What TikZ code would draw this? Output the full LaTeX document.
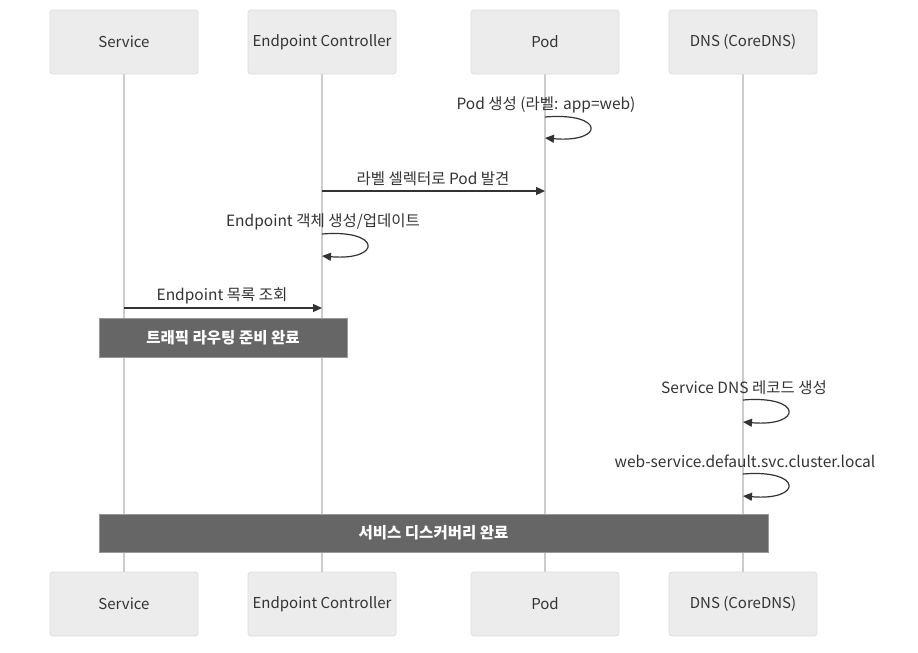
\documentclass[tikz,border=0pt]{standalone}
\usepackage{fontspec}
\setmainfont{Noto Sans CJK KR}
\usetikzlibrary{arrows.meta}
\definecolor{boxfill}{HTML}{ECECEC}
\definecolor{boxline}{HTML}{DDDDDD}
\definecolor{lifeline}{HTML}{CCCCCC}
\definecolor{txt}{HTML}{333333}
\definecolor{notefill}{HTML}{666666}
\definecolor{noteline}{HTML}{999999}
\tikzset{
  actor/.style={draw=boxline, fill=boxfill, rounded corners=3pt, minimum width=148pt, minimum height=64pt, inner sep=0pt, text=txt, font=\fontsize{15}{18}\selectfont, line width=0.8pt},
  life/.style={draw=lifeline, line width=1.5pt},
  msg/.style={draw=txt, line width=1.2pt, -{Triangle[length=9pt,width=8pt]}},
  lbl/.style={text=txt, font=\fontsize{15.5}{18}\selectfont, inner sep=0pt, yshift=-1.5pt},
  notebox/.style={draw=noteline, fill=notefill, text=white, font=\fontsize{15.5}{18}\selectfont\bfseries, inner sep=0pt, line width=0.8pt}
}
\begin{document}
\begin{tikzpicture}[x=1pt,y=-1pt]
\useasboundingbox (0,0) rectangle (918,653);
% lifelines
\coordinate (sT) at (124,74); \coordinate (sB) at (124,572);
\coordinate (eT) at (322,74); \coordinate (eB) at (322,572);
\coordinate (pT) at (545,74); \coordinate (pB) at (545,572);
\coordinate (dT) at (743,74); \coordinate (dB) at (743,572);
\draw[life] (sT) -- (sB);
\draw[life] (eT) -- (eB);
\draw[life] (pT) -- (pB);
\draw[life] (dT) -- (dB);
% actors top
\node[actor] (s1) at (124,42) {\raisebox{-1pt}{Service}};
\node[actor] (e1) at (322,42) {\raisebox{-1pt}{Endpoint Controller}};
\node[actor] (p1) at (545,42) {\raisebox{-1pt}{Pod}};
\node[actor] (d1) at (743,42) {\raisebox{-1pt}{DNS (CoreDNS)}};
% actors bottom
\node[actor] (s2) at (124,604) {\raisebox{-1pt}{Service}};
\node[actor] (e2) at (322,604) {\raisebox{-1pt}{Endpoint Controller}};
\node[actor] (p2) at (545,604) {\raisebox{-1pt}{Pod}};
\node[actor] (d2) at (743,604) {\raisebox{-1pt}{DNS (CoreDNS)}};
% Pod self loop
\node[lbl] (l1) at (546,103) {Pod 생성 (라벨: app=web)};
\coordinate (a1) at (545,117); \coordinate (b1) at (545,138);
\draw[msg] (a1) .. controls (605,112) and (605,143) .. (b1);
% EC -> Pod
\node[lbl] (l2) at (433,177) {라벨 셀렉터로 Pod 발견};
\coordinate (a2) at (322,191); \coordinate (b2) at (545,191);
\draw[msg] (a2) -- (b2);
% EC self loop
\node[lbl] (l3) at (323,220) {Endpoint 객체 생성/업데이트};
\coordinate (a3) at (322,234); \coordinate (b3) at (322,256);
\draw[msg] (a3) .. controls (382,229) and (382,261) .. (b3);
% Service -> EC
\node[lbl] (l4) at (222,294) {Endpoint 목록 조회};
\coordinate (a4) at (124,308); \coordinate (b4) at (322,308);
\draw[msg] (a4) -- (b4);
% note 1
\node[notebox, minimum width=248pt, minimum height=39pt] (n1) at (223,337.5) {트래픽 라우팅 준비 완료};
% DNS self loop 1
\node[lbl] (l5) at (744,386) {Service DNS 레코드 생성};
\coordinate (a5) at (743,400); \coordinate (b5) at (743,422);
\draw[msg] (a5) .. controls (803,395) and (803,427) .. (b5);
% DNS self loop 2
\node[lbl] (l6) at (745,460) {web-service.default.svc.cluster.local};
\coordinate (a6) at (743,474); \coordinate (b6) at (743,496);
\draw[msg] (a6) .. controls (803,469) and (803,501) .. (b6);
% note 2
\node[notebox, minimum width=669pt, minimum height=38pt] (n2) at (433.5,533) {서비스 디스커버리 완료};
\end{tikzpicture}
\end{document}
